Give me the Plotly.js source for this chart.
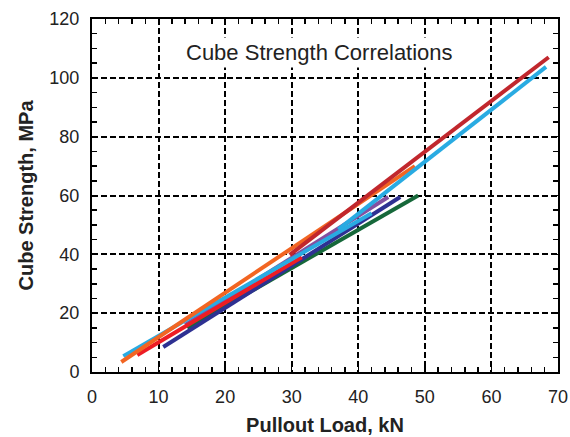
<!DOCTYPE html>
<html><head><meta charset="utf-8">
<script src="https://cdn.plot.ly/plotly-3.0.1.min.js"></script>
<style>html,body{margin:0;padding:0;background:#fff}#chart{width:570px;height:437px}</style>
</head><body><div id="chart"></div>
<script>
const seriesNames = ["Dark red","Light blue long","Light blue short","Orange","Purple","Dark blue","Green","Red"];
const seriesColors = ["#c1272d","#29abe2","#29abe2","#f26522","#8450a0","#2e3192","#16683a","#ed1c24"];
const loadX = [
  [29.7, 68.6],
  [37.0, 68.2],
  [4.7, 42.0],
  [4.4, 48.5],
  [14.0, 44.5],
  [10.7, 46.3],
  [14.3, 49.0],
  [6.8, 31.5]
];
const strengthY = [
  [39.8, 107.0],
  [48.5, 103.7],
  [5.4, 54.0],
  [3.4, 70.0],
  [16.0, 59.5],
  [8.5, 59.5],
  [15.0, 60.0],
  [5.8, 39.0]
];
const xTicks = [0,10,20,30,40,50,60,70];
const yTicks = [0,20,40,60,80,100,120];

const order = [6,5,4,7,2,3,0,1];
const traces = order.map(i => ({
  x: loadX[i], y: strengthY[i], type: 'scatter', mode: 'lines',
  name: seriesNames[i], line: {color: seriesColors[i], width: 4}
}));

const FONT = 'Liberation Sans, Arial, sans-serif';
const axisCommon = {
  showline: true, mirror: 'ticks', linecolor: '#000', linewidth: 2,
  ticks: 'inside', ticklen: 6, tickwidth: 1.5, tickcolor: '#000',
  showgrid: true, gridcolor: '#000', gridwidth: 2, griddash: '6px,3px',
  zeroline: false, tickfont: {family: FONT, size: 18, color: '#222'}
};
const layout = {
  width: 570, height: 437,
  margin: {l: 92, r: 12, t: 19, b: 65},
  paper_bgcolor: '#fff', plot_bgcolor: '#fff',
  showlegend: false,
  xaxis: Object.assign({}, axisCommon, {
    range: [0, 70], tickvals: xTicks, ticktext: xTicks.map(String),
    ticklabelstandoff: 7,
    minor: {dtick: 2, ticks: 'inside', ticklen: 5, tickcolor: '#000', tickwidth: 1.5, showgrid: false},
    title: {text: 'Pullout Load, kN', font: {family: FONT, size: 20, color: '#222', weight: 'bold'}, standoff: 12}
  }),
  yaxis: Object.assign({}, axisCommon, {
    range: [0, 120], tickvals: yTicks, ticktext: yTicks.map(String),
    ticklabelstandoff: 7,
    minor: {dtick: 5, ticks: 'inside', ticklen: 5, tickcolor: '#000', tickwidth: 1.5, showgrid: false},
    title: {text: 'Cube Strength, MPa', font: {family: FONT, size: 20, color: '#222', weight: 'bold'}, standoff: 10}
  }),
  annotations: [{
    text: 'Cube Strength Correlations', xref: 'paper', yref: 'paper',
    x: 0.489, y: 0.906, xanchor: 'center', yanchor: 'middle', showarrow: false,
    bgcolor: '#fff', borderpad: 2,
    font: {family: FONT, size: 22, color: '#222'}
  }]
};
Plotly.newPlot('chart', traces, layout, {displayModeBar: false, staticPlot: true});
</script></body></html>
